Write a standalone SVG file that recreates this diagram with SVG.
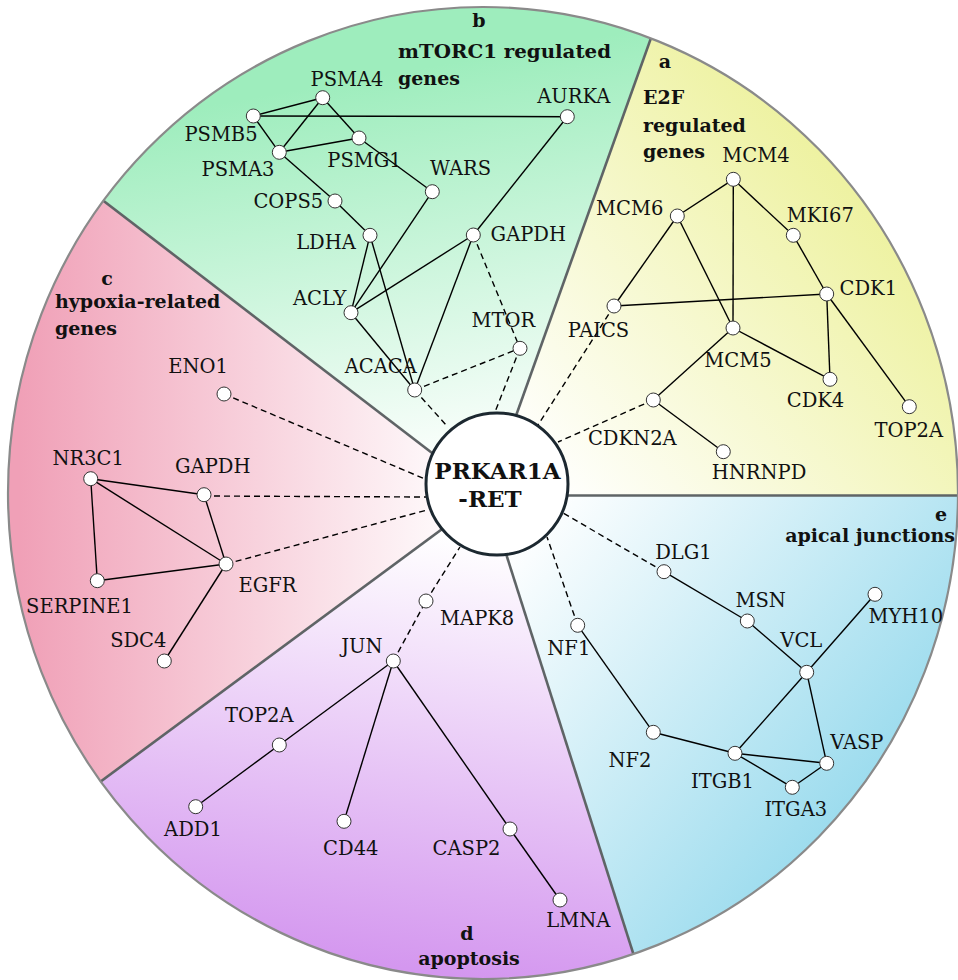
<svg xmlns="http://www.w3.org/2000/svg" width="958" height="980" viewBox="0 0 958 980">
<style>
.lbl{font-family:"DejaVu Serif",serif;font-size:19.5px;fill:#111;text-anchor:middle}
.ttl{font-family:"DejaVu Serif",serif;font-weight:bold;font-size:19px;fill:#111}
.e{stroke:#000;stroke-width:1.4;fill:none}
.d{stroke:#000;stroke-width:1.4;stroke-dasharray:6 4;fill:none}
.n{fill:#fff;stroke:#333;stroke-width:1}
.sep{stroke:#5f6466;stroke-width:2.6}
</style>
<defs>
<clipPath id="clip"><ellipse cx="483" cy="493" rx="475" ry="486"/></clipPath>
<linearGradient id="gB" gradientUnits="userSpaceOnUse" x1="480" y1="470" x2="410" y2="70"><stop offset="0" stop-color="#ffffff"/><stop offset="1" stop-color="#9eedbd"/></linearGradient>
<linearGradient id="gA" gradientUnits="userSpaceOnUse" x1="530" y1="470" x2="850" y2="190"><stop offset="0" stop-color="#ffffff"/><stop offset="1" stop-color="#eef2a2"/></linearGradient>
<linearGradient id="gE" gradientUnits="userSpaceOnUse" x1="530" y1="520" x2="860" y2="790"><stop offset="0" stop-color="#ffffff"/><stop offset="1" stop-color="#9ddcee"/></linearGradient>
<linearGradient id="gD" gradientUnits="userSpaceOnUse" x1="480" y1="540" x2="420" y2="970"><stop offset="0" stop-color="#ffffff"/><stop offset="1" stop-color="#d497ef"/></linearGradient>
<linearGradient id="gC" gradientUnits="userSpaceOnUse" x1="470" y1="495" x2="20" y2="495"><stop offset="0" stop-color="#ffffff"/><stop offset="1" stop-color="#f0a0b7"/></linearGradient>
</defs>

<g id="background" clip-path="url(#clip)">
<polygon fill="url(#gB)" points="487.5,495.5 -277.5,-91.5 -300,-600 814.5,-600 814.5,-419.5"/>
<polygon fill="url(#gA)" points="487.5,495.5 814.5,-419.5 1500,-600 1500,495.5"/>
<polygon fill="url(#gE)" points="487.5,495.5 1500,495.5 1500,1500 782.5,1422.5"/>
<polygon fill="url(#gD)" points="487.5,495.5 782.5,1422.5 -300,1500 -287.5,1068.5"/>
<polygon fill="url(#gC)" points="487.5,495.5 -287.5,1068.5 -300,-91.5 -277.5,-91.5"/>
<line class="sep" x1="487.5" y1="495.5" x2="-277.5" y2="-91.5"/>
<line class="sep" x1="487.5" y1="495.5" x2="814.5" y2="-419.5"/>
<line class="sep" x1="487.5" y1="495.5" x2="1500" y2="495.5"/>
<line class="sep" x1="487.5" y1="495.5" x2="782.5" y2="1422.5"/>
<line class="sep" x1="487.5" y1="495.5" x2="-287.5" y2="1068.5"/>
</g>
<ellipse cx="483" cy="493" rx="475" ry="486" fill="none" stroke="#8a8a8a" stroke-width="2.2"/>

<g id="sector-titles">
<text class="ttl" x="479" y="27" text-anchor="middle" font-size="20">b</text>
<text class="ttl" x="398" y="58" textLength="213" lengthAdjust="spacingAndGlyphs">mTORC1 regulated</text>
<text class="ttl" x="398" y="85">genes</text>
<text class="ttl" x="665" y="68" text-anchor="middle" font-size="20">a</text>
<text class="ttl" x="643" y="104">E2F</text>
<text class="ttl" x="643" y="131.5">regulated</text>
<text class="ttl" x="643" y="158">genes</text>
<text class="ttl" x="107" y="285" text-anchor="middle" font-size="20">c</text>
<text class="ttl" x="55" y="308">hypoxia-related</text>
<text class="ttl" x="55" y="335">genes</text>
<text class="ttl" x="467" y="940" text-anchor="middle" font-size="20">d</text>
<text class="ttl" x="469" y="965" text-anchor="middle">apoptosis</text>
<text class="ttl" x="947" y="521" text-anchor="end" font-size="19">e</text>
<text class="ttl" x="955" y="542" text-anchor="end">apical junctions</text>
</g>

<g id="connectors">
<line class="e" x1="253.3" y1="116" x2="322.7" y2="97.7"/>
<line class="e" x1="253.3" y1="116" x2="567.3" y2="116.7"/>
<line class="e" x1="253.3" y1="116" x2="279.3" y2="152.3"/>
<line class="e" x1="322.7" y1="97.7" x2="279.3" y2="152.3"/>
<line class="e" x1="322.7" y1="97.7" x2="359" y2="138"/>
<line class="e" x1="279.3" y1="152.3" x2="359" y2="138"/>
<line class="e" x1="279.3" y1="152.3" x2="335" y2="201"/>
<line class="e" x1="335" y1="201" x2="370" y2="235.3"/>
<line class="e" x1="359" y1="138" x2="432.3" y2="191.7"/>
<line class="e" x1="432.3" y1="191.7" x2="351" y2="312.7"/>
<line class="e" x1="370" y1="235.3" x2="351" y2="312.7"/>
<line class="e" x1="370" y1="235.3" x2="414.7" y2="390"/>
<line class="e" x1="351" y1="312.7" x2="473.3" y2="235"/>
<line class="e" x1="351" y1="312.7" x2="414.7" y2="390"/>
<line class="e" x1="473.3" y1="235" x2="414.7" y2="390"/>
<line class="e" x1="473.3" y1="235" x2="567.3" y2="116.7"/>
<line class="d" x1="473.3" y1="235" x2="520" y2="348.3"/>
<line class="d" x1="414.7" y1="390" x2="520" y2="348.3"/>
<line class="d" x1="520" y1="348.3" x2="495" y2="412"/>
<line class="d" x1="414.7" y1="390" x2="446" y2="425"/>
<line class="e" x1="677.3" y1="216" x2="733.3" y2="179.3"/>
<line class="e" x1="733.3" y1="179.3" x2="733" y2="328"/>
<line class="e" x1="733.3" y1="179.3" x2="793.3" y2="235.3"/>
<line class="e" x1="793.3" y1="235.3" x2="826.7" y2="294"/>
<line class="e" x1="677.3" y1="216" x2="614" y2="306"/>
<line class="e" x1="677.3" y1="216" x2="733" y2="328"/>
<line class="e" x1="614" y1="306" x2="826.7" y2="294"/>
<line class="e" x1="826.7" y1="294" x2="830" y2="379.3"/>
<line class="e" x1="826.7" y1="294" x2="909.3" y2="406.7"/>
<line class="e" x1="733" y1="328" x2="830" y2="379.3"/>
<line class="e" x1="733" y1="328" x2="653.3" y2="400"/>
<line class="e" x1="653.3" y1="400" x2="723.3" y2="451.7"/>
<line class="d" x1="614" y1="306" x2="538" y2="425"/>
<line class="d" x1="653.3" y1="400" x2="558" y2="442"/>
<line class="e" x1="90.7" y1="478.7" x2="204" y2="494.7"/>
<line class="e" x1="90.7" y1="478.7" x2="226" y2="564"/>
<line class="e" x1="90.7" y1="478.7" x2="97.3" y2="580.7"/>
<line class="e" x1="97.3" y1="580.7" x2="226" y2="564"/>
<line class="e" x1="204" y1="494.7" x2="226" y2="564"/>
<line class="e" x1="226" y1="564" x2="164.3" y2="661"/>
<line class="d" x1="224" y1="394" x2="425" y2="479"/>
<line class="d" x1="204" y1="496" x2="426" y2="497"/>
<line class="d" x1="226" y1="564" x2="427" y2="510"/>
<line class="d" x1="426" y1="601" x2="460" y2="547"/>
<line class="d" x1="393.3" y1="661" x2="426" y2="601"/>
<line class="e" x1="393.3" y1="661" x2="279.3" y2="745"/>
<line class="e" x1="279.3" y1="745" x2="195.7" y2="806.7"/>
<line class="e" x1="393.3" y1="661" x2="344" y2="821.3"/>
<line class="e" x1="393.3" y1="661" x2="510" y2="829"/>
<line class="e" x1="510" y1="829" x2="560" y2="900"/>
<line class="d" x1="664" y1="571.7" x2="563" y2="513"/>
<line class="d" x1="577.7" y1="625.3" x2="547" y2="537"/>
<line class="e" x1="664" y1="571.7" x2="747.3" y2="621"/>
<line class="e" x1="747.3" y1="621" x2="806.7" y2="672.3"/>
<line class="e" x1="806.7" y1="672.3" x2="875" y2="594.3"/>
<line class="e" x1="806.7" y1="672.3" x2="735" y2="753.3"/>
<line class="e" x1="806.7" y1="672.3" x2="826.7" y2="763.3"/>
<line class="e" x1="577.7" y1="625.3" x2="653.3" y2="732.3"/>
<line class="e" x1="653.3" y1="732.3" x2="735" y2="753.3"/>
<line class="e" x1="735" y1="753.3" x2="826.7" y2="763.3"/>
<line class="e" x1="735" y1="753.3" x2="792.3" y2="787.3"/>
<line class="e" x1="792.3" y1="787.3" x2="826.7" y2="763.3"/>
</g>

<g id="center">
<circle cx="497" cy="484" r="71" fill="#fff" stroke="#1c2830" stroke-width="3"/>
<text x="497.5" y="479" text-anchor="middle" font-family="DejaVu Serif, serif" font-weight="bold" font-size="23" fill="#111">PRKAR1A</text>
<text x="490" y="507" text-anchor="middle" font-family="DejaVu Serif, serif" font-weight="bold" font-size="23" fill="#111">-RET</text>
</g>

<g id="PSMA4"><circle class="n" cx="322.7" cy="97.7" r="7"/><text class="lbl" x="347" y="86">PSMA4</text></g>
<g id="PSMB5"><circle class="n" cx="253.3" cy="116" r="7"/><text class="lbl" x="221" y="140.7">PSMB5</text></g>
<g id="PSMA3"><circle class="n" cx="279.3" cy="152.3" r="7"/><text class="lbl" x="238" y="175.7">PSMA3</text></g>
<g id="PSMG1"><circle class="n" cx="359" cy="138" r="7"/><text class="lbl" x="364.5" y="167.3">PSMG1</text></g>
<g id="WARS"><circle class="n" cx="432.3" cy="191.7" r="7"/><text class="lbl" x="460.5" y="175">WARS</text></g>
<g id="COPS5"><circle class="n" cx="335" cy="201" r="7"/><text class="lbl" x="288.3" y="208.3">COPS5</text></g>
<g id="LDHA"><circle class="n" cx="370" cy="235.3" r="7"/><text class="lbl" x="326" y="249.3">LDHA</text></g>
<g id="ACLY"><circle class="n" cx="351" cy="312.7" r="7"/><text class="lbl" x="319.7" y="305">ACLY</text></g>
<g id="AURKA"><circle class="n" cx="567.3" cy="116.7" r="7"/><text class="lbl" x="573.8" y="103.3">AURKA</text></g>
<g id="GAPDH-b"><circle class="n" cx="473.3" cy="235" r="7"/><text class="lbl" x="528.3" y="240.7">GAPDH</text></g>
<g id="MTOR"><circle class="n" cx="520" cy="348.3" r="7"/><text class="lbl" x="503.3" y="326.7">MTOR</text></g>
<g id="ACACA"><circle class="n" cx="414.7" cy="390" r="7"/><text class="lbl" x="380.8" y="373.3">ACACA</text></g>
<g id="MCM4"><circle class="n" cx="733.3" cy="179.3" r="7"/><text class="lbl" x="756" y="161.7">MCM4</text></g>
<g id="MCM6"><circle class="n" cx="677.3" cy="216" r="7"/><text class="lbl" x="629.7" y="215">MCM6</text></g>
<g id="MKI67"><circle class="n" cx="793.3" cy="235.3" r="7"/><text class="lbl" x="820.3" y="221.7">MKI67</text></g>
<g id="CDK1"><circle class="n" cx="826.7" cy="294" r="7"/><text class="lbl" x="868.3" y="295">CDK1</text></g>
<g id="PAICS"><circle class="n" cx="614" cy="306" r="7"/><text class="lbl" x="598.5" y="336.7">PAICS</text></g>
<g id="MCM5"><circle class="n" cx="733" cy="328" r="7"/><text class="lbl" x="738" y="367.3">MCM5</text></g>
<g id="CDK4"><circle class="n" cx="830" cy="379.3" r="7"/><text class="lbl" x="815.5" y="406.7">CDK4</text></g>
<g id="TOP2A-a"><circle class="n" cx="909.3" cy="406.7" r="7"/><text class="lbl" x="908.7" y="436.7">TOP2A</text></g>
<g id="CDKN2A"><circle class="n" cx="653.3" cy="400" r="7"/><text class="lbl" x="632.3" y="445">CDKN2A</text></g>
<g id="HNRNPD"><circle class="n" cx="723.3" cy="451.7" r="7"/><text class="lbl" x="759" y="479.3">HNRNPD</text></g>
<g id="ENO1"><circle class="n" cx="224" cy="394" r="7"/><text class="lbl" x="198" y="373.3">ENO1</text></g>
<g id="NR3C1"><circle class="n" cx="90.7" cy="478.7" r="7"/><text class="lbl" x="88.2" y="465">NR3C1</text></g>
<g id="GAPDH-c"><circle class="n" cx="204" cy="494.7" r="7"/><text class="lbl" x="212.8" y="472.7">GAPDH</text></g>
<g id="SERPINE1"><circle class="n" cx="97.3" cy="580.7" r="7"/><text class="lbl" x="79.5" y="613.3">SERPINE1</text></g>
<g id="EGFR"><circle class="n" cx="226" cy="564" r="7"/><text class="lbl" x="267.5" y="591.7">EGFR</text></g>
<g id="SDC4"><circle class="n" cx="164.3" cy="661" r="7"/><text class="lbl" x="138.3" y="647.3">SDC4</text></g>
<g id="MAPK8"><circle class="n" cx="426" cy="601" r="7"/><text class="lbl" x="477.2" y="625">MAPK8</text></g>
<g id="JUN"><circle class="n" cx="393.3" cy="661" r="7"/><text class="lbl" x="361.8" y="653.3">JUN</text></g>
<g id="TOP2A-d"><circle class="n" cx="279.3" cy="745" r="7"/><text class="lbl" x="259.2" y="721.7">TOP2A</text></g>
<g id="ADD1"><circle class="n" cx="195.7" cy="806.7" r="7"/><text class="lbl" x="193" y="835.7">ADD1</text></g>
<g id="CD44"><circle class="n" cx="344" cy="821.3" r="7"/><text class="lbl" x="350.8" y="855">CD44</text></g>
<g id="CASP2"><circle class="n" cx="510" cy="829" r="7"/><text class="lbl" x="466.5" y="855">CASP2</text></g>
<g id="LMNA"><circle class="n" cx="560" cy="900" r="7"/><text class="lbl" x="578.3" y="926.7">LMNA</text></g>
<g id="DLG1"><circle class="n" cx="664" cy="571.7" r="7"/><text class="lbl" x="683.5" y="559.3">DLG1</text></g>
<g id="MSN"><circle class="n" cx="747.3" cy="621" r="7"/><text class="lbl" x="760.7" y="607.3">MSN</text></g>
<g id="MYH10"><circle class="n" cx="875" cy="594.3" r="7"/><text class="lbl" x="905.8" y="623.3">MYH10</text></g>
<g id="VCL"><circle class="n" cx="806.7" cy="672.3" r="7"/><text class="lbl" x="801.3" y="647.3">VCL</text></g>
<g id="NF1"><circle class="n" cx="577.7" cy="625.3" r="7"/><text class="lbl" x="568.8" y="655">NF1</text></g>
<g id="NF2"><circle class="n" cx="653.3" cy="732.3" r="7"/><text class="lbl" x="630" y="766.7">NF2</text></g>
<g id="ITGB1"><circle class="n" cx="735" cy="753.3" r="7"/><text class="lbl" x="722.5" y="787.7">ITGB1</text></g>
<g id="VASP"><circle class="n" cx="826.7" cy="763.3" r="7"/><text class="lbl" x="856.8" y="749.3">VASP</text></g>
<g id="ITGA3"><circle class="n" cx="792.3" cy="787.3" r="7"/><text class="lbl" x="795.8" y="816">ITGA3</text></g>
</svg>
